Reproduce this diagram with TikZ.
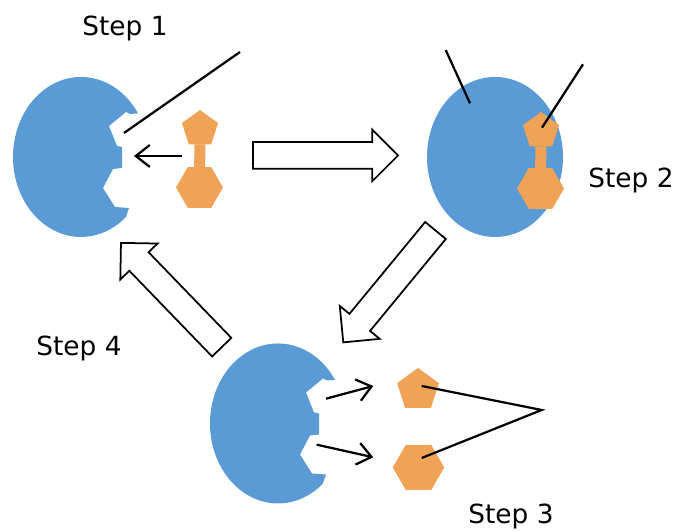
\documentclass[tikz,border=0pt]{standalone}
\usepackage{fontspec}
\setmainfont{DejaVu Sans}
\usepackage{xcolor}
\usetikzlibrary{arrows.meta,shapes.geometric,shapes.arrows}
\definecolor{enzc}{RGB}{91,155,213}
\definecolor{subc}{RGB}{240,163,86}
\tikzset{
  pent/.style={regular polygon,regular polygon sides=5,fill=subc,inner sep=0pt,outer sep=0pt},
  hexa/.style={regular polygon,regular polygon sides=6,fill=subc,inner sep=0pt,outer sep=0pt},
  link/.style={subc,line width=2.2mm},
  lead/.style={line width=0.45mm},
  flow/.style={line width=0.45mm,-{Straight Barb[length=2.8mm,width=4.4mm,line width=0.45mm]}},
  bigarrow/.style={single arrow,draw,line width=0.35mm,fill=white,inner xsep=0pt,inner ysep=2.5mm,outer sep=0pt,
    minimum height=29mm,single arrow head extend=2.5mm,single arrow head indent=0mm,anchor=tail},
  steplabel/.style={font=\fontsize{15}{18}\selectfont},
  cutenzyme/.pic={
    \fill[enzc] (33:68 and 80) arc[start angle=33,end angle=311.4,x radius=68,y radius=80]
      -- (48,-51) -- (34,-50) -- (22,-31) -- (32,-12) -- (41,-11) -- (41,10) -- (36,11)
      -- (28,31) -- (45,45) -- (49,43) -- cycle;
  }
}
\begin{document}
\begin{tikzpicture}[x=0.2mm,y=0.2mm]
  \useasboundingbox (0,0) rectangle (692,531);
  % enzymes
  \pic (E1) at (81,374) {cutenzyme};
  \node[ellipse,fill=enzc,inner sep=0pt,minimum width=27.2mm,minimum height=32mm] (E2) at (495,374) {};
  \pic (E3) at (278,107.5) {cutenzyme};
  % substrate before binding
  \node[pent,minimum size=7.6mm] (P1) at (200,402) {};
  \node[hexa,minimum size=9.4mm] (H1) at (199.5,343.5) {};
  \draw[link] (P1) -- (H1);
  % substrate bound
  \node[pent,minimum size=7.6mm] (P2) at (541,400) {};
  \node[hexa,minimum size=9.4mm] (H2) at (540.5,342.5) {};
  \draw[link] (P2) -- (H2);
  % products
  \node[pent,minimum size=8.8mm] (P3) at (418,141) {};
  \node[hexa,minimum size=10.3mm] (H3) at (418.5,63.5) {};
  % cycle, placed by the tail of each arrow
  \node[bigarrow] (A12) at (253,375.5) {};
  \node[bigarrow,rotate=230.5] (A23) at (435.5,300.5) {};
  \node[bigarrow,rotate=134] (A41) at (221.7,183.8) {};
  % labels
  \node[steplabel] (S1) at (125,503) {Step 1};
  \node[steplabel] (S2) at (631,351) {Step 2};
  \node[steplabel] (S3) at (511,15) {Step 3};
  \node[steplabel] (S4) at (79,183) {Step 4};
  % ends of the thin lines
  \coordinate (a1) at (240,479);
  \coordinate (a2) at (124,398);
  \coordinate (b1) at (182,375);
  \coordinate (b2) at (134,375);
  \coordinate (c1) at (445.7,481);
  \coordinate (c2) at (470,427.7);
  \coordinate (d1) at (583,466.7);
  \coordinate (d2) at (542,403.3);
  \coordinate (e1) at (541.7,121);
  \coordinate (e2) at (421.7,145);
  \coordinate (e3) at (421.7,73);
  \coordinate (f1) at (326,132.3);
  \coordinate (f2) at (373.3,145);
  \coordinate (g1) at (316.7,86.3);
  \coordinate (g2) at (373.3,73.7);
  \draw[lead] (a1) -- (a2);
  \draw[flow] (b1) -- (b2);
  \draw[lead] (c1) -- (c2);
  \draw[lead] (d1) -- (d2);
  \draw[lead] (e2) -- (e1) -- (e3);
  \draw[flow] (f1) -- (f2);
  \draw[flow] (g1) -- (g2);
\end{tikzpicture}
\end{document}
